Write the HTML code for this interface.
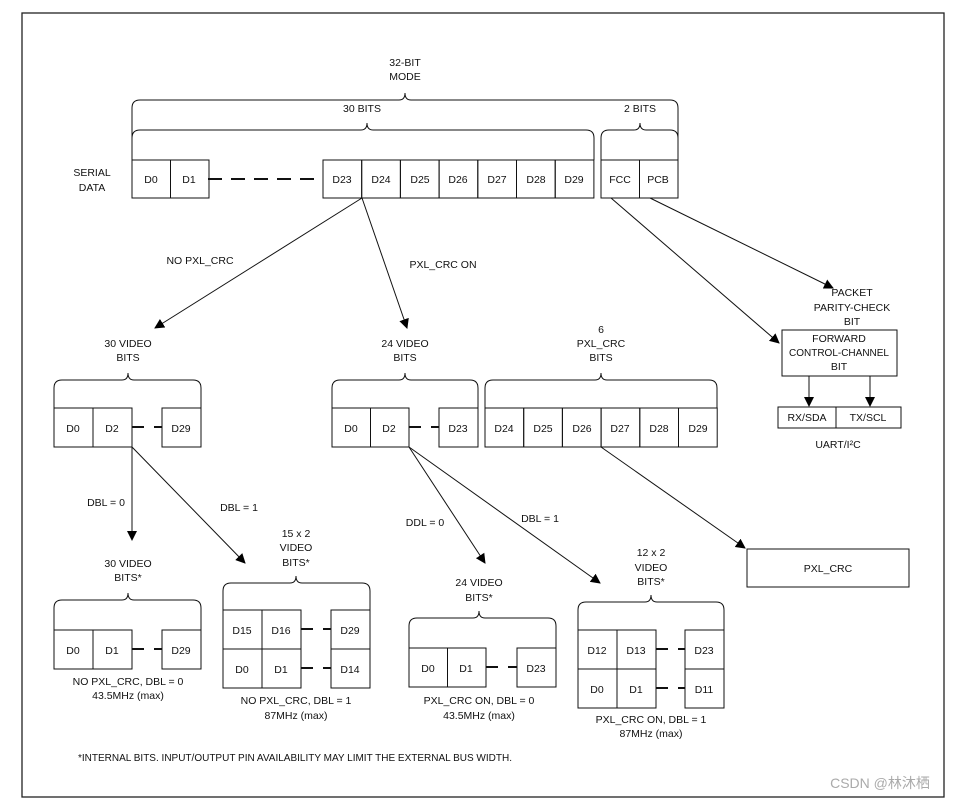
<!DOCTYPE html>
<html><head><meta charset="utf-8"><style>
html,body{margin:0;padding:0;background:#fff;}
svg{display:block;}
text{font-family:"Liberation Sans","Noto Sans CJK SC",sans-serif;font-size:10.5px;fill:#111;text-anchor:middle;}
</style></head><body>
<svg id="s" width="967" height="800" viewBox="0 0 967 800" xmlns="http://www.w3.org/2000/svg">
<defs><marker id="a" markerWidth="10" markerHeight="10" refX="9" refY="5" orient="auto" markerUnits="userSpaceOnUse"><path d="M0,0 L10,5 L0,10 z" fill="#000"/></marker></defs>
<rect x="22" y="13" width="922" height="784" fill="none" stroke="#222" stroke-width="1.3"/>
<g id="g" fill="none" stroke="#111" stroke-width="1"></g>
<text x="405" y="66">32-BIT</text><text x="405" y="80">MODE</text>
<text x="362" y="112">30 BITS</text><text x="640" y="112">2 BITS</text>
<text x="92" y="176">SERIAL</text><text x="92" y="191">DATA</text>
<text x="151" y="183">D0</text><text x="189" y="183">D1</text>
<text x="342" y="183">D23</text><text x="381" y="183">D24</text><text x="420" y="183">D25</text><text x="458" y="183">D26</text><text x="497" y="183">D27</text><text x="536" y="183">D28</text><text x="574" y="183">D29</text>
<text x="620" y="183">FCC</text><text x="658" y="183">PCB</text>
<text x="200" y="264">NO PXL_CRC</text><text x="443" y="268">PXL_CRC ON</text>
<text x="852" y="296">PACKET</text><text x="852" y="311">PARITY-CHECK</text><text x="852" y="325">BIT</text>
<text x="839" y="342">FORWARD</text><text x="839" y="356" style="font-size:10px">CONTROL-CHANNEL</text><text x="839" y="370">BIT</text>
<text x="807" y="421">RX/SDA</text><text x="868" y="421">TX/SCL</text>
<text x="838" y="448">UART/I²C</text>
<text x="128" y="347">30 VIDEO</text><text x="128" y="361">BITS</text>
<text x="405" y="347">24 VIDEO</text><text x="405" y="361">BITS</text>
<text x="601" y="333">6</text><text x="601" y="347">PXL_CRC</text><text x="601" y="361">BITS</text>
<text x="73" y="432">D0</text><text x="112" y="432">D2</text><text x="181" y="432">D29</text>
<text x="351" y="432">D0</text><text x="389" y="432">D2</text><text x="458" y="432">D23</text>
<text x="504" y="432">D24</text><text x="543" y="432">D25</text><text x="582" y="432">D26</text><text x="620" y="432">D27</text><text x="659" y="432">D28</text><text x="698" y="432">D29</text>
<text x="106" y="506">DBL = 0</text><text x="239" y="511">DBL = 1</text>
<text x="425" y="526">DDL = 0</text><text x="540" y="522">DBL = 1</text>
<text x="828" y="572">PXL_CRC</text>
<text x="128" y="567">30 VIDEO</text><text x="128" y="581">BITS*</text>
<text x="296" y="537">15 x 2</text><text x="296" y="551">VIDEO</text><text x="296" y="566">BITS*</text>
<text x="479" y="586">24 VIDEO</text><text x="479" y="601">BITS*</text>
<text x="651" y="556">12 x 2</text><text x="651" y="571">VIDEO</text><text x="651" y="585">BITS*</text>
<text x="73" y="654">D0</text><text x="112" y="654">D1</text><text x="181" y="654">D29</text>
<text x="128" y="685">NO PXL_CRC, DBL = 0</text><text x="128" y="699">43.5MHz (max)</text>
<text x="242" y="634">D15</text><text x="281" y="634">D16</text><text x="350" y="634">D29</text>
<text x="242" y="673">D0</text><text x="281" y="673">D1</text><text x="350" y="673">D14</text>
<text x="296" y="704">NO PXL_CRC, DBL = 1</text><text x="296" y="719">87MHz  (max)</text>
<text x="428" y="672">D0</text><text x="466" y="672">D1</text><text x="536" y="672">D23</text>
<text x="479" y="704">PXL_CRC ON, DBL = 0</text><text x="479" y="719">43.5MHz  (max)</text>
<text x="597" y="654">D12</text><text x="636" y="654">D13</text><text x="704" y="654">D23</text>
<text x="597" y="693">D0</text><text x="636" y="693">D1</text><text x="704" y="693">D11</text>
<text x="651" y="723">PXL_CRC ON, DBL = 1</text><text x="651" y="737">87MHz  (max)</text>
<text x="78" y="761" style="text-anchor:start;font-size:10px">*INTERNAL BITS. INPUT/OUTPUT PIN AVAILABILITY MAY LIMIT THE EXTERNAL BUS WIDTH.</text>
<text x="880" y="788" style="font-size:14px;fill:#aaa">CSDN @林沐栖</text>
</svg>
<script>
var g=document.getElementById('g'),NS='http://www.w3.org/2000/svg';
function el(t,a){var e=document.createElementNS(NS,t);for(var k in a)e.setAttribute(k,a[k]);g.appendChild(e);return e;}
function rect(x,y,w,h){el('rect',{x:x,y:y,width:w,height:h});}
function line(x1,y1,x2,y2,arrow,dash){var a={x1:x1,y1:y1,x2:x2,y2:y2};if(arrow)a['marker-end']='url(#a)';if(dash){a['stroke-dasharray']=dash;a['stroke-width']=2;}el('line',a);}
function brace(x1,x2,y,tip,bottom){el('path',{d:'M'+x1+','+bottom+' V'+(y+8)+' Q'+x1+','+y+' '+(x1+8)+','+y+' H'+(tip-6)+' Q'+tip+','+y+' '+tip+','+(y-7)+' Q'+tip+','+y+' '+(tip+6)+','+y+' H'+(x2-8)+' Q'+x2+','+y+' '+x2+','+(y+8)+' V'+bottom});}
function cells(x0,y,w,h,n){for(var i=0;i<n;i++)rect(x0+i*w,y,w,h);}
brace(132,678,100,405,160);brace(132,594,130,367,160);brace(601,678,130,640,160);
cells(132,160,38.5,38,2);cells(323,160,38.7,38,7);cells(601,160,38.5,38,2);
line(208,179,323,179,false,'14,9');
line(362,198,155,328,1);line(362,198,407,328,1);
line(611,198,779,343,1);line(650,198,833,288,1);
rect(782,330,115,46);line(809,376,809,406,1);line(870,376,870,406,1);
rect(778,407,58,21);rect(836,407,65,21);
brace(54,201,380,128,408);cells(54,408,39,39,2);rect(162,408,39,39);line(132,427,162,427,false,'12,10');
brace(332,478,380,405,408);cells(332,408,38.5,39,2);rect(439,408,39,39);line(409,427,439,427,false,'12,10');
brace(485,717,380,601,408);cells(485,408,38.7,39,6);
line(601,447,745,548,1);rect(747,549,162,38);
line(132,447,132,540,1);line(132,447,245,563,1);
line(409,447,485,563,1);line(409,447,600,583,1);
brace(54,201,600,128,630);cells(54,630,39,39,2);rect(162,630,39,39);line(132,649,162,649,false,'12,10');
brace(223,370,583,296,610);cells(223,610,39,39,2);cells(223,649,39,39,2);rect(331,610,39,39);rect(331,649,39,39);
line(301,629,331,629,false,'12,10');line(301,668,331,668,false,'12,10');
brace(409,556,618,479,648);cells(409,648,38.5,39,2);rect(517,648,39,39);line(486,667,517,667,false,'12,10');
brace(578,724,602,651,630);cells(578,630,39,39,2);cells(578,669,39,39,2);rect(685,630,39,39);rect(685,669,39,39);
line(656,649,685,649,false,'12,10');line(656,688,685,688,false,'12,10');
</script>
</body></html>
